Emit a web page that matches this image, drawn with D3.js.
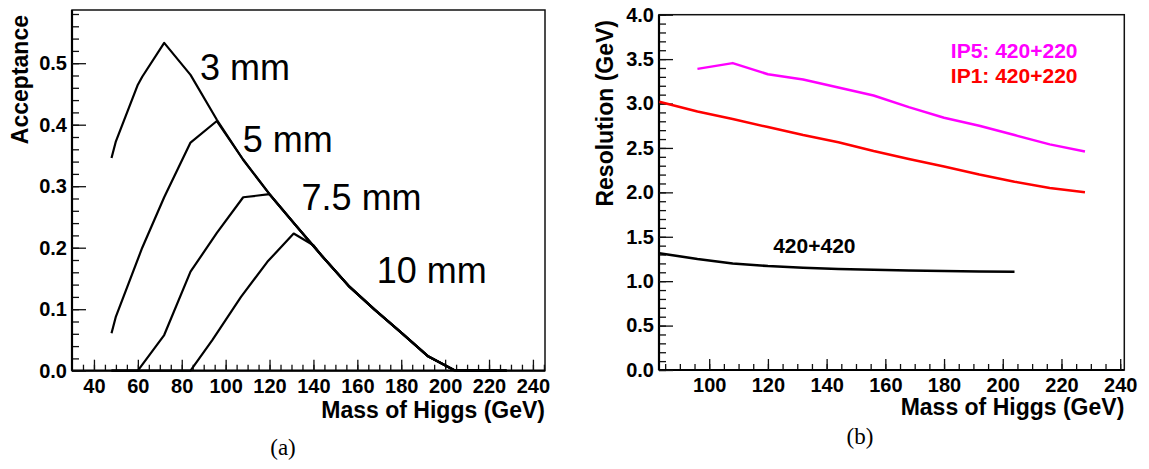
<!DOCTYPE html>
<html>
<head>
<meta charset="utf-8">
<script src="https://cdn.jsdelivr.net/npm/d3@7"></script>
<style>
  body { margin: 0; background: #fff; }
  svg text { font-family: "Liberation Sans", Arial, sans-serif; }
</style>
</head>
<body>
<div id="chart"></div>
<script>
// panel (a): acceptance vs Higgs mass
var masa3 = [48, 50, 60, 62, 72, 84, 96, 108, 120, 132, 144, 156, 168, 180, 192, 204, 216, 228];
var acep3 = [0.346, 0.373, 0.465, 0.478, 0.533, 0.481, 0.408, 0.343, 0.287, 0.236, 0.186, 0.138, 0.099, 0.062, 0.024, 0.001, 0, 0];
var masa5 = [48, 50, 62, 72, 84, 96, 108, 120, 132, 144, 156, 168, 180, 192, 204, 216, 228];
var acep5 = [0.061, 0.088, 0.2, 0.282, 0.371, 0.406, 0.343, 0.287, 0.236, 0.186, 0.138, 0.099, 0.062, 0.024, 0.001, 0, 0];
var masa75 = [48, 60, 72, 84, 96, 108, 120, 132, 144, 156, 168, 180, 192, 204, 216, 228];
var acep75 = [0, 0, 0.058, 0.161, 0.224, 0.282, 0.287, 0.236, 0.186, 0.138, 0.099, 0.062, 0.024, 0.001, 0, 0];
var masa10 = [48, 84, 94, 107, 119, 131, 140, 144, 156, 168, 180, 192, 204, 216, 228];
var acep10 = [0, 0, 0.05, 0.12, 0.177, 0.223, 0.204, 0.186, 0.138, 0.099, 0.062, 0.024, 0.001, 0, 0];
var etiquetasA = ["3 mm", "5 mm", "7.5 mm", "10 mm"];

// panel (b): resolution vs Higgs mass
var masaIP5 = [96, 108, 120, 132, 144, 156, 168, 180, 192, 204, 216, 228];
var resIP5 = [3.39, 3.455, 3.33, 3.27, 3.18, 3.09, 2.96, 2.84, 2.75, 2.645, 2.54, 2.46];
var masaIP1 = [83, 96, 108, 120, 132, 144, 156, 168, 180, 192, 204, 216, 228];
var resIP1 = [3.02, 2.91, 2.825, 2.735, 2.645, 2.565, 2.465, 2.375, 2.29, 2.2, 2.12, 2.05, 2.0];
var masa420 = [83, 96, 108, 120, 132, 144, 156, 168, 180, 192, 204];
var res420 = [1.315, 1.25, 1.2, 1.17, 1.15, 1.138, 1.128, 1.12, 1.114, 1.109, 1.105];
var etiquetasB = ["IP5: 420+220", "IP1: 420+220", "420+420"];

var svg = d3.select("#chart").append("svg")
    .attr("width", 1149)
    .attr("height", 469);

function puntos(xs, ys) {
    return xs.map(function (d, i) { return [d, ys[i]]; });
}

function rango(a, b, paso) {
    var r = [];
    for (var v = a; v <= b + 1e-9; v += paso) r.push(+v.toFixed(4));
    return r;
}

function dibujarEjes(x, y, ops) {
    var x0 = x.range()[0], x1 = x.range()[1];
    var y0 = y.range()[0], y1 = y.range()[1];

    // marco
    svg.append("rect")
        .attr("x", x0).attr("y", y1)
        .attr("width", x1 - x0).attr("height", y0 - y1)
        .attr("fill", "none")
        .attr("stroke", "#111")
        .attr("stroke-width", 1.5);

    // eje x: menores y mayores, ticks hacia dentro
    svg.append("g")
        .attr("transform", "translate(0," + y0 + ")")
        .call(d3.axisBottom(x).tickValues(ops.xMenor).tickSize(-6).tickFormat(""))
        .call(function (g) { g.select(".domain").remove(); });
    var gx = svg.append("g")
        .attr("transform", "translate(0," + y0 + ")")
        .call(d3.axisBottom(x).tickValues(ops.xMayor).tickSize(-11).tickPadding(8).tickFormat(d3.format("d")));
    gx.select(".domain").attr("stroke-width", 2.2).attr("d", "M" + x0 + ",0H" + x1);
    gx.selectAll("text").attr("font-size", 20).attr("font-weight", "bold").attr("fill", "#000");

    svg.append("g")
        .attr("transform", "translate(" + x0 + ",0)")
        .call(d3.axisLeft(y).tickValues(ops.yMenor).tickSize(-7).tickFormat(""))
        .call(function (g) { g.select(".domain").remove(); });
    var gy = svg.append("g")
        .attr("transform", "translate(" + x0 + ",0)")
        .call(d3.axisLeft(y).tickValues(ops.yMayor).tickSize(-14).tickPadding(5).tickFormat(d3.format(".1f")));
    gy.select(".domain").attr("stroke-width", 2.2).attr("d", "M0," + y0 + "V" + y1);
    gy.selectAll("text").attr("font-size", 20).attr("font-weight", "bold").attr("fill", "#000");

    svg.selectAll(".tick line").attr("stroke", "#111").attr("stroke-width", 1.3);

    svg.append("text")
        .attr("x", x1).attr("y", ops.tituloXy)
        .attr("text-anchor", "end")
        .attr("font-size", 23).attr("font-weight", "bold")
        .text("Mass of Higgs (GeV)");

    svg.append("text")
        .attr("transform", "translate(" + ops.tituloYx + "," + ops.tituloYtop + ") rotate(-90)")
        .attr("text-anchor", "end")
        .attr("font-size", 23).attr("font-weight", "bold")
        .text(ops.tituloY);
}

// ---------- panel (a)
var xA = d3.scaleLinear().domain([30, 245.5]).range([72, 545]);
var yA = d3.scaleLinear().domain([0, 0.5865]).range([370.7, 10]);

dibujarEjes(xA, yA, {
    xMayor: rango(40, 240, 20),
    xMenor: rango(35, 245, 5),
    yMayor: rango(0, 0.5, 0.1),
    yMenor: rango(0, 0.58, 0.02),
    tituloXy: 418,
    tituloYx: 28,
    tituloYtop: 15,
    tituloY: "Acceptance"
});

var lineaA = d3.line().x(function (d) { return xA(d[0]); }).y(function (d) { return yA(d[1]); });
var seriesA = [puntos(masa3, acep3), puntos(masa5, acep5), puntos(masa75, acep75), puntos(masa10, acep10)];

svg.append("g").selectAll("path")
    .data(seriesA)
    .enter().append("path")
    .attr("d", lineaA)
    .attr("fill", "none")
    .attr("stroke", "#000")
    .attr("stroke-width", 2.2)
    .attr("stroke-linejoin", "round");

// posicion de las etiquetas en unidades de datos
var posEtiquetasA = [[88.3, 0.473], [107.8, 0.356], [134.6, 0.261], [168.8, 0.143]];
svg.append("g").selectAll("text")
    .data(etiquetasA)
    .enter().append("text")
    .attr("x", function (d, i) { return xA(posEtiquetasA[i][0]); })
    .attr("y", function (d, i) { return yA(posEtiquetasA[i][1]); })
    .attr("font-size", 36)
    .text(function (d) { return d; });

// ---------- panel (b)
var xB = d3.scaleLinear().domain([82.9, 241.4]).range([659, 1124.3]);
var yB = d3.scaleLinear().domain([0, 4]).range([370, 14.7]);

dibujarEjes(xB, yB, {
    xMayor: rango(100, 240, 20),
    xMenor: rango(85, 240, 5),
    yMayor: rango(0, 4, 0.5),
    yMenor: rango(0, 4, 0.1),
    tituloXy: 415,
    tituloYx: 613,
    tituloYtop: 20,
    tituloY: "Resolution (GeV)"
});

var lineaB = d3.line().x(function (d) { return xB(d[0]); }).y(function (d) { return yB(d[1]); });
var seriesB = [
    { p: puntos(masaIP5, resIP5), color: "#ff00ff" },
    { p: puntos(masaIP1, resIP1), color: "#ff0000" },
    { p: puntos(masa420, res420), color: "#000000" }
];

svg.append("g").selectAll("path")
    .data(seriesB)
    .enter().append("path")
    .attr("d", function (d) { return lineaB(d.p); })
    .attr("fill", "none")
    .attr("stroke", function (d) { return d.color; })
    .attr("stroke-width", 2.5)
    .attr("stroke-linejoin", "round");

var posEtiquetasB = [[182.3, 3.51], [182.3, 3.229], [121.8, 1.314]];
svg.append("g").selectAll("text")
    .data(etiquetasB)
    .enter().append("text")
    .attr("x", function (d, i) { return xB(posEtiquetasB[i][0]); })
    .attr("y", function (d, i) { return yB(posEtiquetasB[i][1]); })
    .attr("font-size", 21)
    .attr("font-weight", "bold")
    .attr("fill", function (d, i) { return seriesB[i].color; })
    .text(function (d) { return d; });

// subtitulos
svg.append("text").attr("x", 283).attr("y", 455)
    .attr("text-anchor", "middle")
    .style("font-family", "'Liberation Serif', 'DejaVu Serif', serif")
    .attr("font-size", 23)
    .text("(a)");
svg.append("text").attr("x", 860).attr("y", 444)
    .attr("text-anchor", "middle")
    .style("font-family", "'Liberation Serif', 'DejaVu Serif', serif")
    .attr("font-size", 23)
    .text("(b)");
</script>
</body>
</html>
